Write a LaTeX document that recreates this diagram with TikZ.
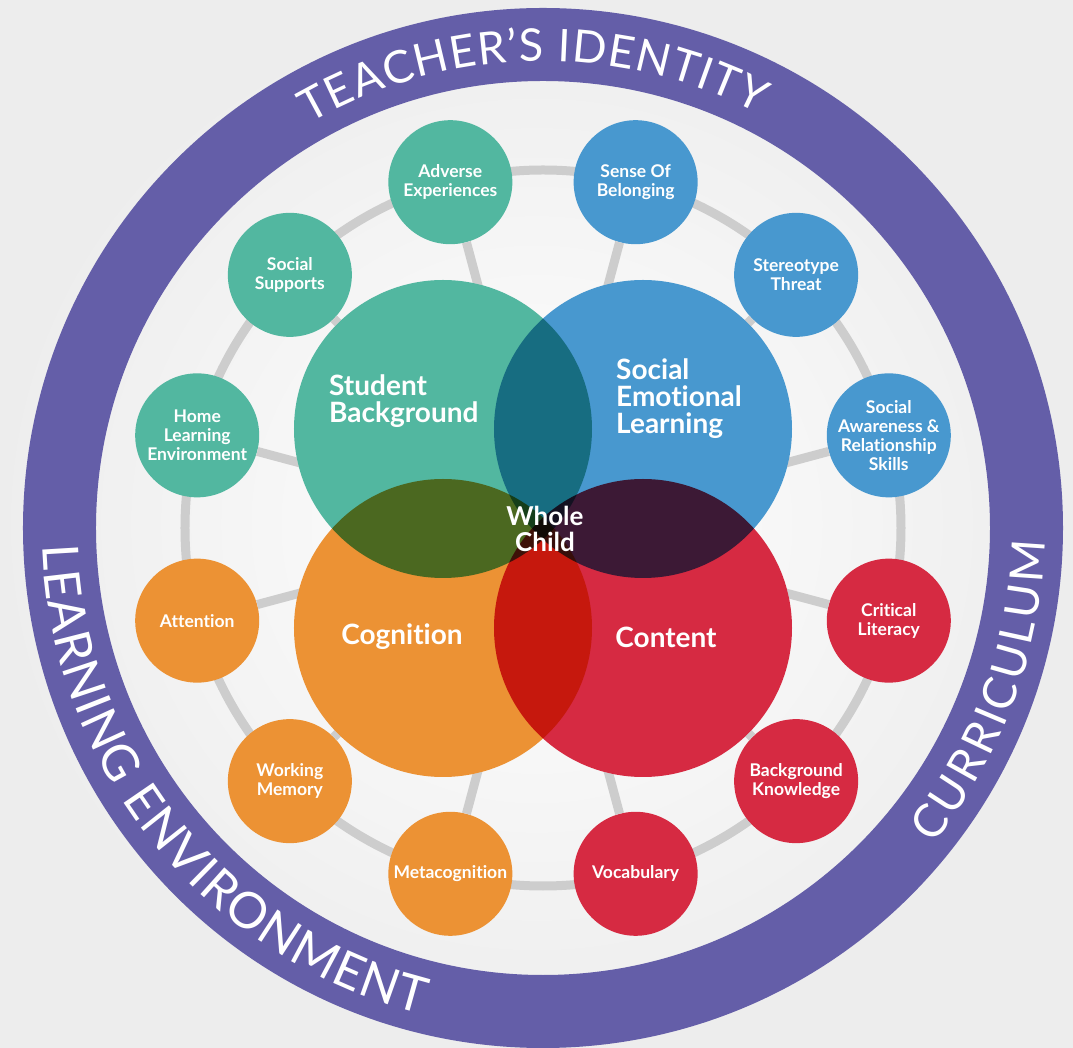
\documentclass[tikz,border=0pt]{standalone}
\usepackage{fontspec}
\setmainfont{Lato}[Ligatures={NoCommon}]
\usetikzlibrary{decorations.text}

\definecolor{ringpurple}{RGB}{100,94,168}
\definecolor{tealc}{RGB}{82,183,160}
\definecolor{bluec}{RGB}{72,152,207}
\definecolor{orangec}{RGB}{236,146,52}
\definecolor{redc}{RGB}{214,42,66}
\definecolor{spokegray}{RGB}{205,205,205}

\newcommand{\toptxt}{\fontsize{45}{45}\selectfont}
\newcommand{\righttxt}{\fontsize{46}{46}\selectfont}
\newcommand{\lefttxt}{\fontsize{50}{50}\selectfont}

\tikzset{
  bubble/.style={circle, minimum size=124pt, inner sep=0pt, align=center, text=white,
    font=\bfseries\fontsize{17.5}{19}\selectfont},
  bigcirc/.style={circle, minimum size=298pt, inner sep=0pt, blend mode=multiply},
  biglabel/.style={text=white, inner sep=0pt, font=\bfseries\fontsize{28}{27}\selectfont},
  spoke/.style={spokegray, line width=9pt},
  ringtext/.style={decorate, decoration={text along path, text color=white, text align=fit to path, text={#1}}},
}

\begin{document}
\begin{tikzpicture}[x=1pt, y=1pt]
\useasboundingbox (-543,-520) rectangle (530,528);
% Background
\shade[inner color=white, outer color=black!7] (-543,-520) rectangle (530,528);
% Outer ring
\draw[ringpurple, line width=73pt] (0,0) circle (483.5);
\path[ringtext={|\toptxt|TEACHER'S IDENTITY}] (120:467) arc[start angle=120, end angle=62.5, radius=467];
\path[ringtext={|\righttxt|CURRICULUM}] (-39:502) arc[start angle=-39, end angle=-1.5, radius=502];
\path[ringtext={|\lefttxt|LEARNING ENVIRONMENT}] (182:501) arc[start angle=182, end angle=256, radius=501];
% Gray ring
\draw[spoke] (0,0) circle (358);
\coordinate (hub) at (0,0);
% Small circles
\node[bubble, fill=tealc] (adverse) at (105:358) {Adverse\\Experiences};
\node[bubble, fill=tealc] (supports) at (135:358) {Social\\Supports};
\node[bubble, fill=tealc] (home) at (165:358) {Home\\Learning\\Environment};
\node[bubble, fill=orangec] (attention) at (195:358) {Attention};
\node[bubble, fill=orangec] (memory) at (225:358) {Working\\Memory};
\node[bubble, fill=orangec] (meta) at (255:358) {Metacognition};
\node[bubble, fill=redc] (vocab) at (285:358) {Vocabulary};
\node[bubble, fill=redc] (knowledge) at (315:358) {Background\\Knowledge};
\node[bubble, fill=redc] (literacy) at (345:358) {Critical\\Literacy};
\node[bubble, fill=bluec] (awareness) at (15:358) {Social\\Awareness \&\\Relationship\\Skills};
\node[bubble, fill=bluec] (threat) at (45:358) {Stereotype\\Threat};
\node[bubble, fill=bluec] (belonging) at (75:358) {Sense Of\\Belonging};
% Spokes
\draw[spoke] (adverse) -- (hub) (supports) -- (hub) (home) -- (hub) (attention) -- (hub)
  (memory) -- (hub) (meta) -- (hub) (vocab) -- (hub) (knowledge) -- (hub)
  (literacy) -- (hub) (awareness) -- (hub) (threat) -- (hub) (belonging) -- (hub);
% Big circles
\fill[white] (-100,99) circle (149) (100,99) circle (149) (-100,-100) circle (149) (100,-100) circle (149);
\node[bigcirc, fill=tealc] (background) at (-100,99) {};
\node[bigcirc, fill=bluec] (sel) at (100,99) {};
\node[bigcirc, fill=orangec] (cognition) at (-100,-100) {};
\node[bigcirc, fill=redc] (content) at (100,-100) {};
% Labels
\node[biglabel, align=left, anchor=west] (bgtext) at (-214,127) {Student\\Background};
\node[biglabel, align=left, anchor=west] (seltext) at (73,129) {Social\\Emotional\\Learning};
\node[biglabel] (cogtext) at (-141,-109) {Cognition};
\node[biglabel] (context) at (123,-109) {Content};
\node[biglabel, align=center, font=\bfseries\fontsize{26}{26}\selectfont] (whole) at (2,-1) {Whole\\Child};
\end{tikzpicture}
\end{document}
